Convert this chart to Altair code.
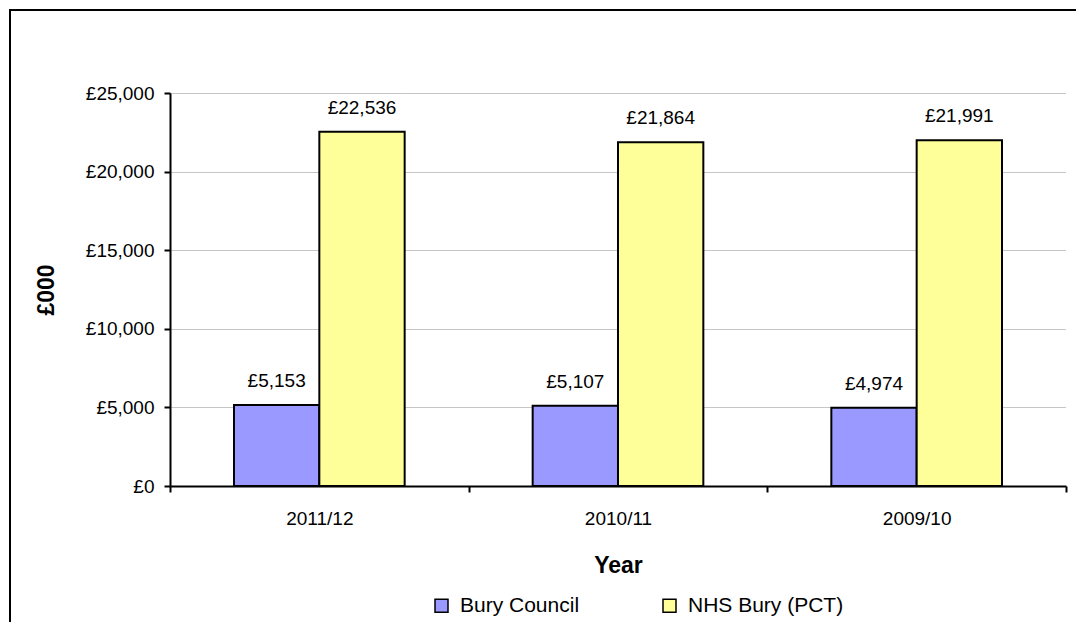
import altair as alt
import pandas as pd

years = ["2011/12", "2010/11", "2009/10"]
series = ["Bury Council", "NHS Bury (PCT)"]
bury_council = [5153, 5107, 4974]
nhs_bury = [22536, 21864, 21991]
y_ticks = [0, 5000, 10000, 15000, 20000, 25000]
colors = ["#9999FF", "#FFFF99"]

rows = []
for i, yr in enumerate(years):
    rows.append({"Year": yr, "Series": series[0], "Value": bury_council[i]})
    rows.append({"Year": yr, "Series": series[1], "Value": nhs_bury[i]})
df = pd.DataFrame(rows)

FONT = "Liberation Sans"
W, H = 896, 393

x_enc = alt.X(
    "Year:N", sort=years,
    scale=alt.Scale(paddingInner=0, paddingOuter=0),
    axis=alt.Axis(
        title="Year", titleFont=FONT, titleFontSize=23, titleFontWeight="bold",
        titleColor="black", titleBaseline="alphabetic", titleX=W / 2, titleY=86,
        titleAlign="center",
        labelFont=FONT, labelFontSize=19, labelColor="black", labelPadding=17,
        labelAngle=0, tickBand="extent", tickSize=6, tickColor="black",
        tickWidth=2, domainColor="black", domainWidth=2, grid=False,
    ),
)
xoff_enc = alt.XOffset(
    "Series:N", sort=series,
    scale=alt.Scale(paddingInner=0, paddingOuter=0.75),
)
y_enc = alt.Y(
    "Value:Q",
    scale=alt.Scale(domain=[0, 25000], nice=False),
    axis=alt.Axis(
        values=y_ticks, labelExpr='"£" + format(datum.value, ",")',
        title="£000", titleFont=FONT, titleFontSize=23, titleFontWeight="bold",
        titleColor="black", titleBaseline="alphabetic", titleX=-117, titleY=H / 2,
        titleAlign="center", titleAngle=270,
        labelFont=FONT, labelFontSize=19, labelColor="black", labelPadding=10,
        tickSize=6, tickColor="black", tickWidth=2,
        domainColor="black", domainWidth=2,
        grid=True, gridColor="#8c8c8c", gridDash=[1, 1], gridWidth=1,
    ),
)

bars = alt.Chart(df).mark_bar(stroke="black", strokeWidth=2).encode(
    x=x_enc,
    xOffset=xoff_enc,
    y=y_enc,
    color=alt.Color(
        "Series:N", sort=series,
        scale=alt.Scale(domain=series, range=colors),
        legend=alt.Legend(
            title=None, orient="none", legendX=261, legendY=502,
            direction="horizontal", symbolType="square", symbolSize=169,
            symbolStrokeColor="black", symbolStrokeWidth=1.5,
            labelFont=FONT, labelFontSize=21, labelColor="black",
            columnPadding=79, labelOffset=8, padding=0,
        ),
    ),
)

labels = alt.Chart(df).transform_calculate(
    label='"£" + format(datum.Value, ",")'
).mark_text(
    font=FONT, fontSize=19, baseline="alphabetic", dy=-18, color="black"
).encode(
    x=x_enc, xOffset=xoff_enc, y=y_enc, text="label:N"
)

frame_df = pd.DataFrame({"k": [0]})
top_rule = alt.Chart(frame_df).mark_rule(
    color="black", strokeWidth=2, strokeCap="square"
).encode(x=alt.value(-160), x2=alt.value(905), y=alt.value(-83))
left_rule = alt.Chart(frame_df).mark_rule(
    color="black", strokeWidth=2, strokeCap="square"
).encode(x=alt.value(-160), y=alt.value(-83), y2=alt.value(528))

chart = alt.layer(bars, labels, top_rule, left_rule).properties(
    width=W, height=H, padding=0, background="white"
).configure_view(stroke="transparent")

chart.save("out.html", embed_options={"renderer": "svg", "actions": False})
